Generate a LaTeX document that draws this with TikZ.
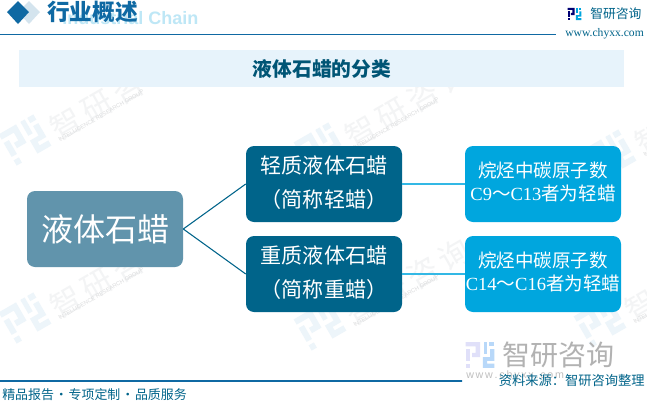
\documentclass[tikz,border=0pt]{standalone}
\usepackage{fontspec}
\setmainfont{Noto Sans CJK SC}
\newfontfamily\latinbold{Liberation Sans}
\newfontfamily\serifl{Liberation Serif}
\definecolor{navy}{HTML}{00648A}
\definecolor{sky}{HTML}{00A6DE}
\definecolor{slate}{HTML}{6194AC}
\definecolor{band}{HTML}{E7F3FB}
\definecolor{rulec}{HTML}{0F69A3}
\definecolor{wm}{HTML}{F3F4F5}
\definecolor{wmblue}{HTML}{EDF5FA}
\newcommand{\uptxt}[3]{\raisebox{#1}{\begin{tabular}{@{}c@{}}#2\\#3\end{tabular}}}
% logo mark in a local frame of about 40 units, centred on the origin
\newcommand{\zlogo}[2]{%
  \fill[#1] (-20,-18) -- (0,-18) -- (0,3) -- (-11,3) -- (-11,-3) -- (-6,-3) -- (-6,-12) -- (-20,-12) -- cycle;
  \fill[#1] (-20,-8) rectangle (-14,8);
  \fill[#1] (-20,12) rectangle (-14,18);
  \fill[#2] (13,-18) rectangle (20,-12);
  \fill[#2] (5,-18) rectangle (10,-2);
  \fill[#2] (20,-8) -- (20,8) -- (10,8) -- (10,12) -- (20,12) -- (20,18) -- (4,18) -- (4,3) -- (14,3) -- (14,-8) -- cycle;
}
\newcommand{\wunit}[2]{%
  \begin{scope}[shift={(#1,#2)},rotate=30]
    \zlogo{wmblue}{wmblue}
    \node[anchor=west,inner sep=0pt,text=wm,font=\fontsize{23}{24}\selectfont,rotate=30] at (28,6) {智\,研\,咨\,询};
    \node[anchor=west,inner sep=0pt,text=wm!90!black,font=\latinbold\fontsize{4.3}{5}\selectfont,rotate=30] at (29,17) {INTELLIGENCE RESEARCH GROUP};
  \end{scope}}
\tikzset{
 x=0.75pt,y=-0.75pt,
 box/.style={rounded corners=6pt,minimum width=117pt,minimum height=57pt,inner sep=0pt,align=center,text=white},
 midbox/.style={box,fill=navy,font=\fontsize{15.8}{25.5}\selectfont},
 rightbox/.style={box,fill=sky,font=\fontsize{13.9}{17.2}\selectfont},
 link/.style={draw=navy,line width=0.8pt},
 linkb/.style={draw=sky!80,line width=0.8pt},
}
\begin{document}
\begin{tikzpicture}
\useasboundingbox (0,0) rectangle (647,404);
\fill[white] (0,0) rectangle (647,404);
\begin{scope}
\clip (0,0) rectangle (647,404);
\foreach \p/\q in {25/-35,320/-35,610/-35,25/140,320/148,610/155,25/318,320/325,600/322,25/495,320/495}{\wunit{\p}{\q}}
\end{scope}
% header
\fill[rulec!18] (29,1) -- (40,12) -- (29,24) -- (18,12) -- cycle;
\fill[rulec] (18,1) -- (29,12) -- (18,24) -- (7,12) -- cycle;
\node[anchor=west,inner sep=0pt,text=band!70!sky!70,font=\latinbold\bfseries\fontsize{13.5}{14}\selectfont] (ghost) at (62,18) {Industrial Chain};
\node[anchor=west,inner sep=0pt,text=rulec,font=\fontsize{17}{18}\selectfont\bfseries] (head) at (47,12) {行业概述};
\fill[rulec] (0,33.5) rectangle (556,35);
% logo top
\begin{scope}[shift={(574.5,14)},scale=0.34]
\zlogo{blue!45!black}{sky}
\end{scope}
\node[anchor=west,inner sep=0pt,text=navy,font=\fontsize{9.6}{11}\selectfont] (brand) at (590,14) {智研咨询};
\node[anchor=west,inner sep=0pt,text=navy,font=\serifl\fontsize{8.7}{9}\selectfont] (web) at (565,34) {www.chyxx.com};
% band
\fill[band] (19,50) rectangle (624,87);
\node[text=navy!85!black,font=\fontsize{14.8}{16}\selectfont\bfseries,inner sep=0pt] (title) at (322,69) {液体石蜡的分类};
% boxes
\node[box,fill=slate,font=\fontsize{24}{28}\selectfont] (main) at (105,229) {液体石蜡};
\node[midbox] (light) at (324,184) {\uptxt{2.2pt}{轻质液体石蜡}{（简称轻蜡）}};
\node[midbox] (heavy) at (324,274) {\uptxt{2.2pt}{重质液体石蜡}{（简称重蜡）}};
\node[rightbox] (ldef) at (543,184) {\uptxt{-2.2pt}{烷烃中碳原子数}{{\serifl C9}～{\serifl C13}者为轻蜡}};
\node[rightbox] (hdef) at (543,274) {\uptxt{-2.2pt}{烷烃中碳原子数}{{\serifl C14}～{\serifl C16}者为轻蜡}};
\draw[link] (main.east) -- (light.west);
\draw[link] (main.east) -- (heavy.west);
\draw[linkb] (light.east) -- (ldef.west);
\draw[linkb] (heavy.east) -- (hdef.west);
% bottom right watermark logo
\begin{scope}[shift={(480,355)},scale=0.72]
\zlogo{black!20!blue!12!white}{blue!30!sky!28!white}
\end{scope}
\node[anchor=west,inner sep=0pt,text=black!30,font=\fontsize{21}{24}\selectfont] (wmname) at (502,355) {智研咨询};
\node[anchor=west,inner sep=0pt,text=black!25,font=\latinbold\fontsize{8}{9}\selectfont] (wmurl) at (466,376) {w\,w\,w\,.\,c\,h\,y\,x\,x\,.\,c\,o\,m};
% footer
\shade[left color=rulec,middle color=rulec!45!white,right color=rulec] (0,380) rectangle (462,381.6);
\node[anchor=west,inner sep=0pt,text=navy,font=\fontsize{9.7}{11}\selectfont] (foot) at (2,395) {精品报告\makebox[11pt][c]{·}专项定制\makebox[11pt][c]{·}品质服务};
\node[anchor=east,inner sep=0pt,text=navy,font=\fontsize{9.95}{11}\selectfont] (src) at (645,381) {资料来源：智研咨询整理};
\end{tikzpicture}
\end{document}
